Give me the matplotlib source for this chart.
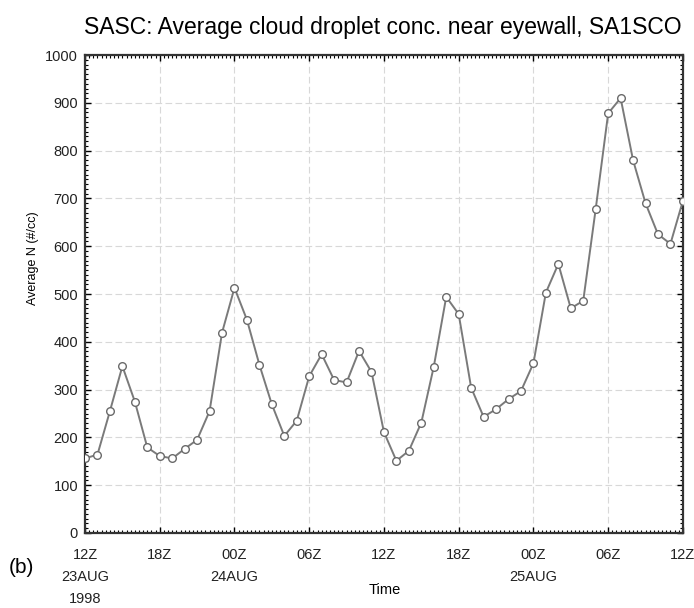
import matplotlib
matplotlib.use("Agg")
import matplotlib.pyplot as plt
from matplotlib.ticker import MultipleLocator

# hourly values, 12Z 23 Aug 1998 -> 12Z 25 Aug
hours = list(range(49))
conc = [156, 164, 255, 349, 275, 179, 161, 156, 176, 195, 255, 419, 513,
        446, 352, 269, 203, 235, 328, 374, 320, 315, 381, 337, 211, 151,
        172, 231, 348, 494, 458, 304, 243, 259, 280, 297, 355, 503, 563,
        470, 486, 678, 878, 910, 780, 690, 625, 605, 695]
tick_hours = [0, 6, 12, 18, 24, 30, 36, 42, 48]
tick_labels = ["12Z\n23AUG\n1998", "18Z", "00Z\n24AUG", "06Z", "12Z",
               "18Z", "00Z\n25AUG", "06Z", "12Z"]
y_ticks = [0, 100, 200, 300, 400, 500, 600, 700, 800, 900, 1000]

plt.rcParams['font.family'] = ['Liberation Sans', 'DejaVu Sans']

fig = plt.figure(figsize=(6.94, 6.08), dpi=100)
ax = fig.add_axes([0.1225, 0.1234, 0.8615, 0.786])

ax.plot(hours, conc, color='#7a7a7a', lw=1.4, marker='o', ms=5.5,
        mfc='white', mec='#6a6a6a', mew=1.0, zorder=3)

ax.set_xlim(0, 48)
ax.set_ylim(0, 1000)
ax.set_xticks(tick_hours)
ax.set_xticklabels(tick_labels, fontsize=10.5, linespacing=1.75, color='#222222')
ax.set_yticks(y_ticks)
ax.set_yticklabels([str(v) for v in y_ticks], fontsize=10.5, color='#222222')
ax.xaxis.set_minor_locator(MultipleLocator(1 / 3))
ax.yaxis.set_minor_locator(MultipleLocator(10))
ax.tick_params(which='major', direction='in', length=4, width=1.0,
               top=True, right=True)
ax.tick_params(axis='y', which='major', pad=5)
ax.tick_params(axis='x', which='major', pad=10.5)
ax.tick_params(which='minor', direction='in', length=2.5, width=0.8,
               top=True, right=True)

ax.grid(True, which='major', color='#d8d8d8', lw=0.8, ls=(0, (6, 3)))
for s in ax.spines.values():
    s.set_linewidth(1.6)
    s.set_color('#333333')

ax.set_ylabel("Average N (#/cc)", fontsize=9)
ax.yaxis.set_label_coords(-0.077, 0.575)
fig.text(0.554, 0.0296, "Time", fontsize=10.5, ha='center', va='center')
fig.text(0.013, 0.067, "(b)", fontsize=15, ha='left', va='center')
fig.text(0.552, 0.955, "SASC: Average cloud droplet conc. near eyewall, SA1SCO",
         fontsize=16.5, ha='center', va='center')

plt.savefig("out.png", dpi=100)
